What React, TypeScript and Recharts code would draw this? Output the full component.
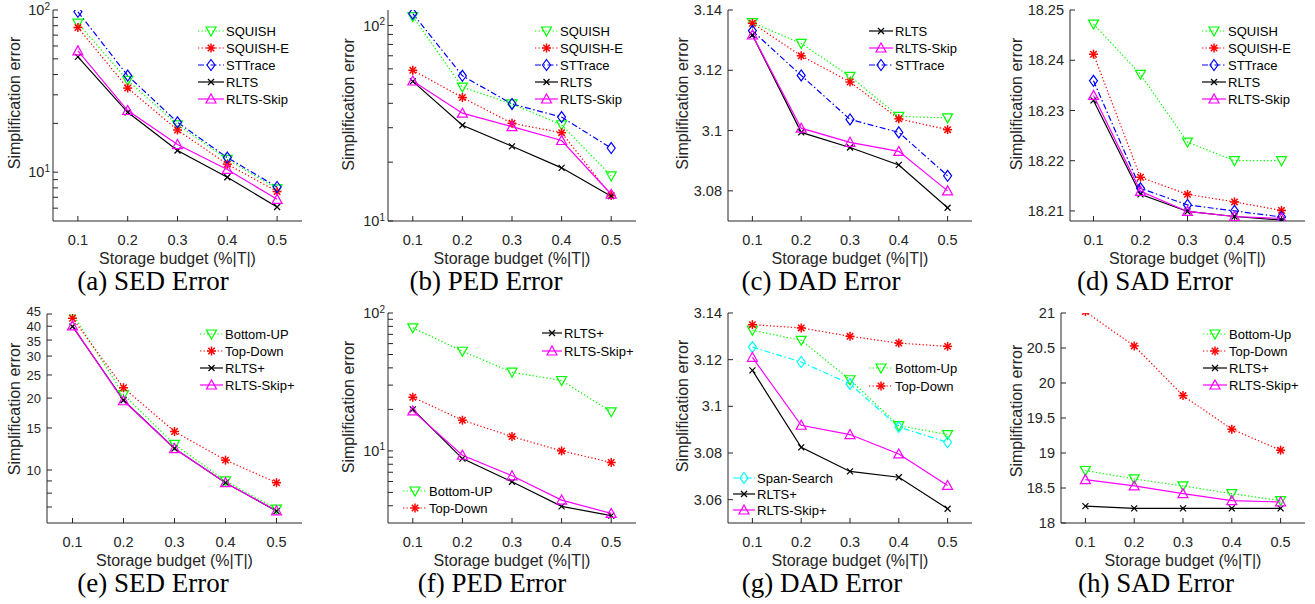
import React from 'react';
import { LineChart, Line, XAxis, YAxis } from 'recharts';

const FONT = '"Liberation Sans", Arial, Helvetica, sans-serif';
const SERIF = '"Liberation Serif", "Times New Roman", serif';
const AXIS = '#262626';

// storage budgets (x axis)
const budgets = [0.1, 0.2, 0.3, 0.4, 0.5];

// (a) SED error
const sedSquish = [83, 36.8, 19.6, 12.0, 7.9];
const sedSquishE = [78, 33, 18.2, 11.2, 7.6];
const sedSttrace = [97.5, 39.4, 20.3, 12.3, 8.1];
const sedRlts = [51.4, 23.4, 13.6, 9.3, 6.1];
const sedRltsSkip = [56, 24, 14.8, 10.4, 6.8];

// (b) PED error
const pedSquish = [111, 48.4, 39.7, 31, 17];
const pedSquishE = [59, 42.8, 31.6, 28.3, 13.5];
const pedSttrace = [115, 55.3, 39.7, 34, 23.6];
const pedRlts = [51.8, 30.9, 24.1, 18.7, 13.4];
const pedRltsSkip = [52, 35.6, 30.4, 25.8, 13.7];

// (c) DAD error
const dadSquish = [3.1358, 3.1289, 3.118, 3.1047, 3.1042];
const dadSquishE = [3.1356, 3.1248, 3.1161, 3.1039, 3.1003];
const dadSttrace = [3.1331, 3.1183, 3.1037, 3.0994, 3.085];
const dadRlts = [3.1317, 3.0994, 3.0944, 3.0886, 3.0744];
const dadRltsSkip = [3.1317, 3.1008, 3.0961, 3.0931, 3.08];

// (d) SAD error
const sadSquish = [18.2472, 18.2372, 18.2237, 18.22, 18.22];
const sadSquishE = [18.2412, 18.2167, 18.2133, 18.2118, 18.2101];
const sadSttrace = [18.2359, 18.2145, 18.2112, 18.21, 18.2088];
const sadRlts = [18.232, 18.2133, 18.2099, 18.2089, 18.2082];
const sadRltsSkip = [18.233, 18.2139, 18.2099, 18.2089, 18.2085];

// (e) SED error, plus variants
const sedBottomUp = [45, 20.7, 12.8, 9.0, 6.86];
const sedTopDown = [43.2, 22.1, 14.5, 11, 8.85];
const sedRltsPlus = [39.9, 19.6, 12.3, 8.85, 6.73];
const sedRltsSkipPlus = [40.1, 19.5, 12.3, 8.85, 6.75];

// (f) PED error, plus variants
const pedBottomUp = [78, 52.8, 37.2, 32.4, 19.2];
const pedTopDown = [24.5, 16.7, 12.7, 10, 8.24];
const pedRltsPlus = [20, 8.8, 5.97, 3.96, 3.39];
const pedRltsSkipPlus = [19.5, 9.3, 6.6, 4.4, 3.52];

// (g) DAD error, plus variants
const dadBottomUp = [3.1326, 3.1283, 3.1114, 3.0917, 3.0879];
const dadTopDown = [3.135, 3.1336, 3.13, 3.1271, 3.1257];
const dadSpanSearch = [3.1254, 3.119, 3.1096, 3.0911, 3.0846];
const dadRltsPlus = [3.1154, 3.0824, 3.0721, 3.0696, 3.0561];
const dadRltsSkipPlus = [3.121, 3.0919, 3.0879, 3.0796, 3.0661];

// (h) SAD error, plus variants
const sadBottomUp = [18.75, 18.63, 18.53, 18.42, 18.32];
const sadTopDown = [21.02, 20.53, 19.82, 19.34, 19.04];
const sadRltsPlus = [18.24, 18.21, 18.21, 18.21, 18.21];
const sadRltsSkipPlus = [18.62, 18.53, 18.42, 18.32, 18.3];

type MarkerKind = 'down' | 'up' | 'diamond' | 'star' | 'cross';
interface SeriesStyle {
  color: string;
  dash?: string;
  marker: MarkerKind;
}

const DOTTED = '1.3 2.2';
const DASHDOT = '6 2.5 1.5 2.5';

const GREEN: SeriesStyle = { color: '#00ff00', dash: DOTTED, marker: 'down' };
const RED: SeriesStyle = { color: '#ff0000', dash: DOTTED, marker: 'star' };
const BLUE: SeriesStyle = { color: '#0000ff', dash: DASHDOT, marker: 'diamond' };
const BLACK: SeriesStyle = { color: '#000000', marker: 'cross' };
const MAGENTA: SeriesStyle = { color: '#ff00ff', marker: 'up' };
const CYAN: SeriesStyle = { color: '#00ffff', dash: DASHDOT, marker: 'diamond' };

function MarkerShape({ cx, cy, kind, color }: { cx: number; cy: number; kind: MarkerKind; color: string }) {
  if (cx == null || cy == null || isNaN(cx) || isNaN(cy)) return <g />;
  switch (kind) {
    case 'down':
      return (
        <polygon
          points={`${cx - 5},${cy - 4} ${cx + 5},${cy - 4} ${cx},${cy + 5}`}
          fill="none"
          stroke={color}
          strokeWidth={1.2}
        />
      );
    case 'up':
      return (
        <polygon
          points={`${cx - 5},${cy + 4} ${cx + 5},${cy + 4} ${cx},${cy - 5}`}
          fill="none"
          stroke={color}
          strokeWidth={1.2}
        />
      );
    case 'diamond':
      return (
        <polygon
          points={`${cx},${cy - 5.5} ${cx + 4},${cy} ${cx},${cy + 5.5} ${cx - 4},${cy}`}
          fill="none"
          stroke={color}
          strokeWidth={1.2}
        />
      );
    case 'star':
      return (
        <g stroke={color} strokeWidth={1.5}>
          <line x1={cx - 4.5} y1={cy} x2={cx + 4.5} y2={cy} />
          <line x1={cx} y1={cy - 4.5} x2={cx} y2={cy + 4.5} />
          <line x1={cx - 3.2} y1={cy - 3.2} x2={cx + 3.2} y2={cy + 3.2} />
          <line x1={cx - 3.2} y1={cy + 3.2} x2={cx + 3.2} y2={cy - 3.2} />
        </g>
      );
    default:
      return (
        <g stroke={color} strokeWidth={1.2}>
          <line x1={cx - 3} y1={cy - 3} x2={cx + 3} y2={cy + 3} />
          <line x1={cx - 3} y1={cy + 3} x2={cx + 3} y2={cy - 3} />
        </g>
      );
  }
}

interface SeriesDef {
  name: string;
  values: number[];
  style: SeriesStyle;
}

interface LegendGroup {
  x1: number;
  x2: number;
  y0: number;
  step: number;
  items: SeriesDef[];
}

interface PanelDef {
  ox: number;
  oy: number;
  plot: { l: number; t: number; r: number; b: number };
  log: boolean;
  powerLabels: boolean;
  yDomain: [number, number];
  yTicks: number[];
  yLabels: number[];
  tickFont?: number;
  nudge?: Record<string, number>;
  series: SeriesDef[];
  legends: LegendGroup[];
  caption: string;
  captionX: number;
  yLabelX: number;
}

const s = (name: string, values: number[], style: SeriesStyle): SeriesDef => ({ name, values, style });

const logMinor = (lo: number, hi: number) => {
  const out: number[] = [];
  for (let d = 1; d <= 100; d *= 10) {
    for (let k = 1; k < 10; k++) {
      const v = k * d;
      if (v >= lo && v <= hi) out.push(v);
    }
  }
  return out;
};

const aSeries = [
  s('SQUISH', sedSquish, GREEN),
  s('SQUISH-E', sedSquishE, RED),
  s('STTrace', sedSttrace, BLUE),
  s('RLTS', sedRlts, BLACK),
  s('RLTS-Skip', sedRltsSkip, MAGENTA),
];
const bSeries = [
  s('SQUISH', pedSquish, GREEN),
  s('SQUISH-E', pedSquishE, RED),
  s('STTrace', pedSttrace, BLUE),
  s('RLTS', pedRlts, BLACK),
  s('RLTS-Skip', pedRltsSkip, MAGENTA),
];
const cSeries = [
  s('SQUISH', dadSquish, GREEN),
  s('SQUISH-E', dadSquishE, RED),
  s('STTrace', dadSttrace, BLUE),
  s('RLTS', dadRlts, BLACK),
  s('RLTS-Skip', dadRltsSkip, MAGENTA),
];
const dSeries = [
  s('SQUISH', sadSquish, GREEN),
  s('SQUISH-E', sadSquishE, RED),
  s('STTrace', sadSttrace, BLUE),
  s('RLTS', sadRlts, BLACK),
  s('RLTS-Skip', sadRltsSkip, MAGENTA),
];
const eSeries = [
  s('Bottom-UP', sedBottomUp, GREEN),
  s('Top-Down', sedTopDown, RED),
  s('RLTS+', sedRltsPlus, BLACK),
  s('RLTS-Skip+', sedRltsSkipPlus, MAGENTA),
];
const fSeries = [
  s('Bottom-UP', pedBottomUp, GREEN),
  s('Top-Down', pedTopDown, RED),
  s('RLTS+', pedRltsPlus, BLACK),
  s('RLTS-Skip+', pedRltsSkipPlus, MAGENTA),
];
const gSeries = [
  s('Bottom-Up', dadBottomUp, GREEN),
  s('Top-Down', dadTopDown, RED),
  s('Span-Search', dadSpanSearch, CYAN),
  s('RLTS+', dadRltsPlus, BLACK),
  s('RLTS-Skip+', dadRltsSkipPlus, MAGENTA),
];
const hSeries = [
  s('Bottom-Up', sadBottomUp, GREEN),
  s('Top-Down', sadTopDown, RED),
  s('RLTS+', sadRltsPlus, BLACK),
  s('RLTS-Skip+', sadRltsSkipPlus, MAGENTA),
];

const panels: PanelDef[] = [
  {
    ox: 0, oy: 0, plot: { l: 53, t: 10, r: 302, b: 221 },
    log: true, powerLabels: true, yDomain: [5, 100],
    yTicks: logMinor(5.5, 100), yLabels: [10, 100],
    series: aSeries,
    legends: [{ x1: 198, x2: 224, y0: 31, step: 17, items: aSeries }],
    caption: '(a) SED Error', captionX: 153, yLabelX: 14,
  },
  {
    ox: 330, oy: 0, plot: { l: 388, t: 10, r: 636, b: 221 },
    log: true, powerLabels: true, yDomain: [10, 120],
    yTicks: logMinor(10, 100), yLabels: [10, 100],
    series: bSeries,
    legends: [{ x1: 535, x2: 558, y0: 31, step: 17, items: bSeries }],
    caption: '(b) PED Error', captionX: 486, yLabelX: 348,
  },
  {
    ox: 660, oy: 0, plot: { l: 728, t: 10, r: 972, b: 221 },
    log: false, powerLabels: false, yDomain: [3.07, 3.14],
    yTicks: [3.08, 3.1, 3.12, 3.14], yLabels: [3.08, 3.1, 3.12, 3.14],
    series: cSeries,
    legends: [{ x1: 869, x2: 893, y0: 31, step: 17, items: [cSeries[3], cSeries[4], cSeries[2]] }],
    caption: '(c) DAD Error', captionX: 821, yLabelX: 682,
  },
  {
    ox: 985, oy: 0, plot: { l: 1070, t: 10, r: 1305, b: 221 },
    log: false, powerLabels: false, yDomain: [18.208, 18.25],
    yTicks: [18.21, 18.22, 18.23, 18.24, 18.25], yLabels: [18.21, 18.22, 18.23, 18.24, 18.25],
    series: dSeries,
    legends: [{ x1: 1202, x2: 1226, y0: 31, step: 17, items: dSeries }],
    caption: '(d) SAD Error', captionX: 1155, yLabelX: 1016,
  },
  {
    ox: 0, oy: 300, plot: { l: 47, t: 314, r: 302, b: 523 },
    log: true, powerLabels: false, yDomain: [6, 45],
    yTicks: [7, 8, 9, 10, 15, 20, 25, 30, 35, 40, 45], yLabels: [10, 15, 20, 25, 30, 35, 40, 45],
    tickFont: 13, nudge: { '45': -2.5, '35': 1, '30': 0.5 },
    series: eSeries,
    legends: [{ x1: 200, x2: 223, y0: 334, step: 17, items: eSeries }],
    caption: '(e) SED Error', captionX: 153, yLabelX: 14,
  },
  {
    ox: 330, oy: 300, plot: { l: 388, t: 313, r: 636, b: 523 },
    log: true, powerLabels: true, yDomain: [3, 100],
    yTicks: logMinor(3.5, 100), yLabels: [10, 100],
    series: fSeries,
    legends: [
      { x1: 542, x2: 562, y0: 333, step: 18, items: [fSeries[2], fSeries[3]] },
      { x1: 403, x2: 427, y0: 491, step: 17, items: [fSeries[0], fSeries[1]] },
    ],
    caption: '(f) PED Error', captionX: 492, yLabelX: 348,
  },
  {
    ox: 660, oy: 300, plot: { l: 728, t: 313, r: 972, b: 523 },
    log: false, powerLabels: false, yDomain: [3.05, 3.14],
    yTicks: [3.06, 3.08, 3.1, 3.12, 3.14], yLabels: [3.06, 3.08, 3.1, 3.12, 3.14],
    series: gSeries,
    legends: [
      { x1: 869, x2: 893, y0: 368, step: 18, items: [gSeries[0], gSeries[1]] },
      { x1: 733, x2: 755, y0: 478, step: 16, items: [gSeries[2], gSeries[3], gSeries[4]] },
    ],
    caption: '(g) DAD Error', captionX: 822, yLabelX: 682,
  },
  {
    ox: 985, oy: 300, plot: { l: 1061, t: 313, r: 1305, b: 523 },
    log: false, powerLabels: false, yDomain: [18, 21],
    yTicks: [18, 18.5, 19, 19.5, 20, 20.5, 21], yLabels: [18, 18.5, 19, 19.5, 20, 20.5, 21],
    series: hSeries,
    legends: [{ x1: 1203, x2: 1227, y0: 334, step: 17, items: hSeries }],
    caption: '(h) SAD Error', captionX: 1156, yLabelX: 1016,
  },
];

const NoTick = () => <g />;

function Panel({ def }: { def: PanelDef }) {
  const { ox, oy, plot } = def;
  const W = plot.r + 6 - ox;
  const H = 300;
  const yw = plot.l - ox;
  const xh = oy + H - plot.b;
  const fs = def.tickFont ?? 14.5;

  const data = budgets.map((x, i) => {
    const row: Record<string, number> = { x };
    def.series.forEach((sr) => {
      row[sr.name] = sr.values[i];
    });
    return row;
  });

  const renderYTick = (p: any) => {
    const v = p.payload?.value as number;
    if (!def.yLabels.some((l) => Math.abs(l - v) < 1e-9)) return <g />;
    const shift = def.nudge?.[String(v)] ?? 0;
    if (def.powerLabels) {
      const e = Math.round(Math.log10(v));
      return (
        <text x={p.x + 3} y={p.y + shift} dy="0.35em" textAnchor="end" fontSize={fs} fontFamily={FONT} fill={AXIS}>
          10
          <tspan dy="-0.55em" fontSize={10}>
            {e}
          </tspan>
        </text>
      );
    }
    return (
      <text x={p.x} y={p.y + shift} dy="0.35em" textAnchor="end" fontSize={fs} fontFamily={FONT} fill={AXIS}>
        {String(v)}
      </text>
    );
  };

  const cx = (plot.l + plot.r) / 2 - ox;
  const xLabel = (
    <g>
      <text x={cx} y={plot.b - oy + 42.5} textAnchor="middle" fontSize={16} fontFamily={FONT} fill={AXIS}>
        Storage budget (%|T|)
      </text>
      <text x={def.captionX - ox} y={plot.b - oy + 69} textAnchor="middle" fontSize={27} fontFamily={SERIF} fill="#000">
        {def.caption}
      </text>
    </g>
  );
  const yMid = (plot.t + plot.b) / 2 - oy;
  const yLabel = (
    <text
      x={def.yLabelX - ox}
      y={yMid}
      dy="0.35em"
      textAnchor="middle"
      fontSize={16}
      fontFamily={FONT}
      fill={AXIS}
      transform={`rotate(-90, ${def.yLabelX - ox}, ${yMid})`}
    >
      Simplification error
    </text>
  );

  return (
    <div style={{ position: 'absolute', left: ox, top: oy }}>
      <LineChart width={W} height={H} data={data} margin={{ top: plot.t - oy, right: 6, bottom: 0, left: 0 }}>
        <XAxis
          dataKey="x"
          type="number"
          domain={[0.05, 0.55]}
          ticks={budgets}
          allowDataOverflow
          height={xh}
          stroke={AXIS}
          tickSize={-5}
          tickMargin={19}
          tick={{ fontSize: 14.5, fill: AXIS, fontFamily: FONT }}
          tickFormatter={(v: number) => String(v)}
          label={xLabel}
        />
        <XAxis
          xAxisId="top"
          orientation="top"
          type="number"
          domain={[0.05, 0.55]}
          ticks={budgets}
          allowDataOverflow
          height={0}
          stroke={AXIS}
          tickSize={-5}
          tick={NoTick}
        />
        <YAxis
          type="number"
          scale={def.log ? 'log' : 'linear'}
          domain={def.yDomain}
          ticks={def.yTicks}
          allowDataOverflow
          width={yw}
          stroke={AXIS}
          tickSize={-5}
          tickMargin={11}
          tick={renderYTick}
          interval={0}
          label={yLabel}
        />
        <YAxis
          yAxisId="right"
          orientation="right"
          type="number"
          scale={def.log ? 'log' : 'linear'}
          domain={def.yDomain}
          ticks={def.yTicks}
          allowDataOverflow
          width={0}
          stroke={AXIS}
          tickSize={-5}
          tick={NoTick}
          interval={0}
        />
        {def.series.map((sr) => (
          <Line
            key={sr.name}
            dataKey={sr.name}
            type="linear"
            stroke={sr.style.color}
            strokeWidth={1.2}
            strokeDasharray={sr.style.dash}
            isAnimationActive={false}
            activeDot={false}
            dot={(p: any) => (
              <MarkerShape
                key={`${sr.name}-${p.index}`}
                cx={p.cx}
                cy={p.cy}
                kind={sr.style.marker}
                color={sr.style.color}
              />
            )}
          />
        ))}
      </LineChart>
    </div>
  );
}

function Legends() {
  return (
    <svg width={1315} height={604} style={{ position: 'absolute', left: 0, top: 0, pointerEvents: 'none' }}>
      {panels.flatMap((p, pi) =>
        p.legends.map((g, gi) => (
          <g key={`${pi}-${gi}`}>
            {g.items.map((it, i) => {
              const y = g.y0 + i * g.step;
              const mx = (g.x1 + g.x2) / 2;
              return (
                <g key={it.name}>
                  <line
                    x1={g.x1}
                    y1={y}
                    x2={g.x2}
                    y2={y}
                    stroke={it.style.color}
                    strokeWidth={1.2}
                    strokeDasharray={it.style.dash}
                  />
                  <MarkerShape cx={mx} cy={y} kind={it.style.marker} color={it.style.color} />
                  <text x={g.x2 + 2} y={y} dy="0.35em" fontSize={13} fontFamily={FONT} fill="#000">
                    {it.name}
                  </text>
                </g>
              );
            })}
          </g>
        ))
      )}
    </svg>
  );
}

export default function App() {
  return (
    <div style={{ position: 'absolute', left: 0, top: 0, width: 1315, height: 604, background: '#fff' }}>
      {panels.map((p, i) => (
        <Panel key={i} def={p} />
      ))}
      <Legends />
    </div>
  );
}
